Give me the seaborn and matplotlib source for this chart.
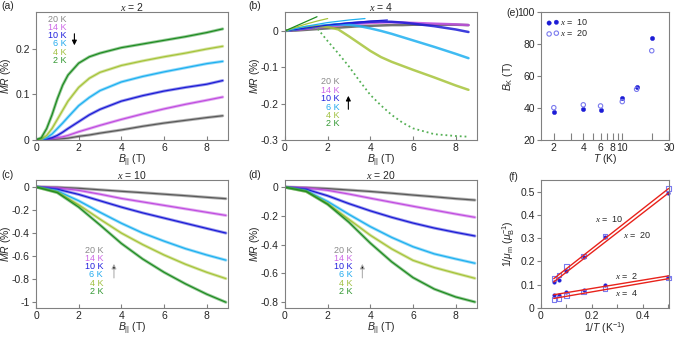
import numpy as np
import matplotlib
matplotlib.use("Agg")
import matplotlib.pyplot as plt
import seaborn as sns

sns.set_theme(style="white")
plt.rcParams['font.family'] = ['Liberation Sans', 'DejaVu Sans']
plt.rcParams['mathtext.fontset'] = 'custom'
plt.rcParams['mathtext.rm'] = 'Liberation Sans'
plt.rcParams['mathtext.it'] = 'Liberation Sans:italic'
plt.rcParams['mathtext.cal'] = 'Liberation Serif:italic'
plt.rcParams['axes.unicode_minus'] = False

temps = ["20 K", "14 K", "10 K", "6 K", "4 K", "2 K"]
line_colors = ["#5a5a5a", "#c04ee0", "#1c1cd6", "#1eb0f0", "#a6c43a", "#1f8c22"]
text_colors = ["#8a8a8a", "#cc66e6", "#2222dd", "#22aaee", "#a0c040", "#339933"]

# (a) x = 2
B_a = [0, 0.25, 0.5, 0.75, 1, 1.25, 1.5, 2, 2.5, 3, 4, 5, 6, 7, 8, 8.75]
mr_a_20K = [0, 0, 0, 0.001, 0.002, 0.003, 0.004, 0.008, 0.011, 0.015, 0.022, 0.03, 0.037, 0.043, 0.049, 0.053]
mr_a_14K = [0, 0, 0.001, 0.003, 0.005, 0.007, 0.01, 0.018, 0.025, 0.032, 0.045, 0.057, 0.068, 0.078, 0.087, 0.094]
mr_a_10K = [0, 0, 0.002, 0.005, 0.01, 0.017, 0.025, 0.04, 0.055, 0.067, 0.085, 0.097, 0.107, 0.115, 0.122, 0.13]
mr_a_6K = [0, 0.001, 0.005, 0.013, 0.025, 0.037, 0.05, 0.075, 0.093, 0.108, 0.127, 0.139, 0.149, 0.158, 0.167, 0.172]
mr_a_4K = [0, 0.002, 0.01, 0.025, 0.045, 0.065, 0.085, 0.115, 0.135, 0.148, 0.163, 0.173, 0.182, 0.19, 0.199, 0.205]
mr_a_2K = [0, 0.005, 0.025, 0.055, 0.09, 0.12, 0.142, 0.168, 0.182, 0.19, 0.202, 0.21, 0.218, 0.226, 0.235, 0.243]

# (b) x = 4, data
B_b = [0, 0.5, 1, 1.5, 2, 2.5, 3, 3.5, 4, 4.5, 5, 5.5, 6, 7, 8, 8.6]
mr_b_20K = [0, 0.001, 0.003, 0.005, 0.007, 0.009, 0.011, 0.013, 0.014, 0.015, 0.016, 0.016, 0.017, 0.017, 0.017, 0.016]
mr_b_14K = [0, 0.003, 0.006, 0.009, 0.012, 0.015, 0.018, 0.02, 0.022, 0.023, 0.024, 0.023, 0.022, 0.02, 0.018, 0.016]
mr_b_10K = [0, 0.004, 0.008, 0.012, 0.015, 0.018, 0.021, 0.023, 0.025, 0.026, 0.025, 0.023, 0.02, 0.013, 0.004, -0.003]
mr_b_6K = [0, 0.005, 0.009, 0.013, 0.016, 0.018, 0.017, 0.013, 0.007, 0.0, -0.008, -0.017, -0.026, -0.044, -0.063, -0.075]
mr_b_4K = [0, 0.006, 0.011, 0.013, 0.011, 0.004, -0.015, -0.035, -0.055, -0.072, -0.085, -0.096, -0.107, -0.128, -0.15, -0.162]
mr_b_2K = [0, 0.005, 0.01, 0.008, -0.028, -0.062, -0.098, -0.138, -0.176, -0.205, -0.231, -0.252, -0.268, -0.284, -0.289, -0.291]
# (b) low-field fits
fit_b_B_10K = [0, 1, 2, 3, 4, 4.8]
fit_b_10K = [0, 0.008, 0.016, 0.022, 0.027, 0.03]
fit_b_B_6K = [0, 1, 2, 3, 3.75]
fit_b_6K = [0, 0.013, 0.023, 0.03, 0.034]
fit_b_B_4K = [0, 0.5, 1, 1.5, 2]
fit_b_4K = [0, 0.01, 0.019, 0.027, 0.034]
fit_b_B_2K = [0, 0.5, 1, 1.5]
fit_b_2K = [0, 0.013, 0.026, 0.039]

# (c) x = 10
B_cd = [0, 1, 2, 3, 4, 5, 6, 7, 8, 8.9]
mr_c_20K = [0, -0.003, -0.012, -0.025, -0.038, -0.05, -0.063, -0.076, -0.09, -0.102]
mr_c_14K = [0, -0.008, -0.03, -0.063, -0.1, -0.13, -0.16, -0.19, -0.22, -0.247]
mr_c_10K = [0, -0.02, -0.065, -0.12, -0.175, -0.225, -0.27, -0.315, -0.36, -0.4]
mr_c_6K = [0, -0.035, -0.12, -0.22, -0.315, -0.4, -0.47, -0.535, -0.59, -0.635]
mr_c_4K = [0, -0.045, -0.155, -0.28, -0.4, -0.5, -0.59, -0.67, -0.74, -0.795]
mr_c_2K = [0, -0.05, -0.175, -0.33, -0.49, -0.625, -0.74, -0.84, -0.93, -1.0]

# (d) x = 20
mr_d_20K = [0, -0.003, -0.01, -0.02, -0.03, -0.042, -0.055, -0.067, -0.08, -0.09]
mr_d_14K = [0, -0.005, -0.022, -0.048, -0.077, -0.105, -0.133, -0.16, -0.187, -0.21]
mr_d_10K = [0, -0.015, -0.06, -0.115, -0.165, -0.21, -0.25, -0.285, -0.315, -0.34]
mr_d_6K = [0, -0.025, -0.1, -0.19, -0.275, -0.35, -0.415, -0.465, -0.5, -0.53]
mr_d_4K = [0, -0.03, -0.115, -0.225, -0.335, -0.43, -0.51, -0.56, -0.6, -0.635]
mr_d_2K = [0, -0.03, -0.12, -0.245, -0.39, -0.52, -0.63, -0.71, -0.765, -0.8]

# (e) B_K vs T
T_e = [2, 4, 6, 10, 14, 20]
Bk_x10 = [37.7, 39.4, 39.0, 46.3, 53.0, 83.8]
Bk_x20 = [40.2, 42.0, 41.3, 44.0, 51.7, 75.8]

# (f) 1/mu_m vs 1/T
invT = [0.05, 0.0714, 0.1, 0.1667, 0.25, 0.5]
inv_mu_x10 = [0.11, 0.121, 0.157, 0.22, 0.303, 0.492]
inv_mu_x20 = [0.126, 0.143, 0.179, 0.224, 0.31, 0.513]
inv_mu_x2 = [0.054, 0.054, 0.069, 0.079, 0.1, 0.133]
inv_mu_x4 = [0.036, 0.04, 0.054, 0.069, 0.083, 0.129]
fit_invT = [0.05, 0.5]
fit_x10 = [0.126, 0.513]
fit_x20 = [0.112, 0.494]
fit_x2 = [0.057, 0.138]
fit_x4 = [0.041, 0.126]

FS = 7.5
GRAY = "#808080"
B_LABEL = r'$B_{||}$ (T)'

fig = plt.figure(figsize=(6.76, 3.38), dpi=100)


def add_ax(l, r, t, b):
    return fig.add_axes([l / 676, 1 - b / 338, (r - l) / 676, (b - t) / 338])


def style(ax, ylab_x):
    for sp in ax.spines.values():
        sp.set_color(GRAY)
        sp.set_linewidth(0.8)
    ax.tick_params(axis='x', direction='in', length=3, width=0.8, color=GRAY,
                   labelsize=FS, pad=2, bottom=True)
    ax.tick_params(axis='y', direction='out', length=3, width=0.8, color=GRAY,
                   labelsize=FS, pad=1.5, left=True)
    ax.grid(False)
    ax.yaxis.set_label_coords(ylab_x, 0.5)
    ax.xaxis.set_label_coords(0.5, -0.095)


def draw_arrow(ax, x, y0, y1, shaft):
    ax.annotate('', xy=(x, y1), xytext=(x, y0), xycoords='axes fraction',
                arrowprops=dict(arrowstyle='-|>', color=shaft, lw=0.8,
                                mutation_scale=7, shrinkA=0, shrinkB=0,
                                fc='black', ec=shaft))


def fmt(v):
    return '{:g}'.format(round(v, 3))


def mr_panel(ax, B, curves, title, ylim, yticks, leg_x, leg_y0, arrow_x, arrow_y, shaft):
    for vals, c in zip(curves, line_colors):
        sns.lineplot(x=B, y=vals, color=c, lw=2.2, alpha=0.45, ax=ax)
        sns.lineplot(x=B, y=vals, color=c, lw=0.9, ax=ax)
    ax.set_xlim(0, 9)
    ax.set_ylim(*ylim)
    ax.set_xticks([0, 2, 4, 6, 8])
    ax.set_yticks(yticks)
    ax.set_yticklabels([fmt(v) for v in yticks])
    ax.set_title(title, fontsize=FS, pad=0.5)
    ax.set_xlabel(B_LABEL, fontsize=FS)
    ax.set_ylabel(r'$MR$ (%)', fontsize=FS)
    for i, (t, c) in enumerate(zip(temps, text_colors)):
        ax.text(leg_x, leg_y0 - i * 0.065, t, color=c, fontsize=6.5,
                ha='right', va='center', transform=ax.transAxes)
    draw_arrow(ax, arrow_x, arrow_y[0], arrow_y[1], shaft)
    style(ax, -0.12)


ax_a = add_ax(36, 228, 12, 140)
mr_panel(ax_a, B_a, [mr_a_20K, mr_a_14K, mr_a_10K, mr_a_6K, mr_a_4K, mr_a_2K],
         r'$\mathcal{x}$ = 2', (0, 0.28), [0, 0.1, 0.2], 0.157, 0.945,
         0.2, (0.83, 0.74), 'black')

ax_b = add_ax(285, 477, 12, 140)
curves_b = [mr_b_20K, mr_b_14K, mr_b_10K, mr_b_6K, mr_b_4K]
for vals, c in zip(curves_b, line_colors[:5]):
    sns.lineplot(x=B_b, y=vals, color=c, lw=1.8, alpha=0.85, ax=ax_b)
sns.lineplot(x=B_b, y=mr_b_2K, color="#55b055", lw=1.3, ls=':', ax=ax_b)
for fb, fv, c in [(fit_b_B_10K, fit_b_10K, line_colors[2]), (fit_b_B_6K, fit_b_6K, line_colors[3]),
                  (fit_b_B_4K, fit_b_4K, line_colors[4]), (fit_b_B_2K, fit_b_2K, line_colors[5])]:
    sns.lineplot(x=fb, y=fv, color=c, lw=0.9, ax=ax_b)
ax_b.set_xlim(0, 9)
ax_b.set_ylim(-0.3, 0.052)
ax_b.set_xticks([0, 2, 4, 6, 8])
ax_b.set_yticks([0, -0.1, -0.2, -0.3])
ax_b.set_yticklabels(['0', '-0.1', '-0.2', '-0.3'])
ax_b.set_title(r'$\mathcal{x}$ = 4', fontsize=FS, pad=0.5)
ax_b.set_xlabel(B_LABEL, fontsize=FS)
ax_b.set_ylabel(r'$MR$ (%)', fontsize=FS)
for i, (t, c) in enumerate(zip(temps, text_colors)):
    ax_b.text(0.283, 0.455 - i * 0.066, t, color=c, fontsize=6.5,
              ha='right', va='center', transform=ax_b.transAxes)
draw_arrow(ax_b, 0.33, 0.24, 0.345, 'black')
style(ax_b, -0.12)

ax_c = add_ax(36, 228, 180, 308)
mr_panel(ax_c, B_cd, [mr_c_20K, mr_c_14K, mr_c_10K, mr_c_6K, mr_c_4K, mr_c_2K],
         r'$\mathcal{x}$ = 10', (-1.05, 0.06), [0, -0.2, -0.4, -0.6, -0.8, -1],
         0.349, 0.453, 0.406, (0.235, 0.345), '#b0b0b0')

ax_d = add_ax(285, 477, 180, 308)
mr_panel(ax_d, B_cd, [mr_d_20K, mr_d_14K, mr_d_10K, mr_d_6K, mr_d_4K, mr_d_2K],
         r'$\mathcal{x}$ = 20', (-0.842, 0.05), [0, -0.2, -0.4, -0.6, -0.8],
         0.353, 0.453, 0.403, (0.235, 0.345), '#b0b0b0')

# (e)
ax_e = add_ax(541, 669, 12, 140)
sns.scatterplot(x=T_e, y=Bk_x10, color='#1c1cd6', s=10, edgecolor='#1c1cd6',
                marker='o', label=r'$\mathcal{x}$ =  10', ax=ax_e)
sns.scatterplot(x=T_e, y=Bk_x20, facecolor='none', edgecolor='#7a7aee', s=10,
                linewidth=0.8, marker='o', label=r'$\mathcal{x}$ =  20', ax=ax_e)
ax_e.set_xscale('log')
ax_e.set_xlim(1.48, 30)
ax_e.set_ylim(20, 100)
ax_e.set_xticks([2, 3, 4, 5, 6, 7, 8, 9, 10, 20, 30])
ax_e.set_xticklabels(['2', '', '4', '', '6', '', '8', '', '10', '', '30'])
ax_e.minorticks_off()
ax_e.set_yticks([20, 40, 60, 80, 100])
ax_e.set_xlabel(r'$T$ (K)', fontsize=FS)
ax_e.set_ylabel(r'$B_{\mathrm{K}}$ (T)', fontsize=FS)
ax_e.legend(loc='upper left', frameon=False, scatterpoints=2, fontsize=6.5,
            handletextpad=0.1, borderaxespad=0.4, labelspacing=0.1,
            borderpad=0.2, handlelength=1.4)
style(ax_e, -0.2)
ax_e.tick_params(axis='x', length=5)

# (f)
ax_f = add_ax(541, 669, 180, 308)
for fv in [fit_x10, fit_x20, fit_x2, fit_x4]:
    sns.lineplot(x=fit_invT, y=fv, color='#e8221b', lw=1.0, ax=ax_f)
for vals in [inv_mu_x10, inv_mu_x2]:
    sns.scatterplot(x=invT, y=vals, color='#1c1cd6', edgecolor='#1c1cd6', s=7,
                    marker='o', clip_on=False, ax=ax_f)
for vals in [inv_mu_x20, inv_mu_x4]:
    sns.scatterplot(x=invT, y=vals, facecolor='none', edgecolor='#7a7aee', s=10,
                    linewidth=0.8, marker='s', clip_on=False, ax=ax_f)
ax_f.text(0.211, 0.383, r'$\mathcal{x}$ =  10', fontsize=6.5, va='center')
ax_f.text(0.32, 0.315, r'$\mathcal{x}$ =  20', fontsize=6.5, va='center')
ax_f.text(0.29, 0.138, r'$\mathcal{x}$ =  2', fontsize=6.5, va='center')
ax_f.text(0.29, 0.064, r'$\mathcal{x}$ =  4', fontsize=6.5, va='center')
ax_f.set_xlim(0, 0.502)
ax_f.set_ylim(0, 0.55)
ax_f.set_xticks([0, 0.1, 0.2, 0.3, 0.4, 0.5])
ax_f.set_xticklabels(['0', '', '0.2', '', '0.4', ''])
ax_f.set_yticks([0, 0.1, 0.2, 0.3, 0.4, 0.5])
ax_f.set_yticklabels(['0', '0.1', '0.2', '0.3', '0.4', '0.5'])
ax_f.set_xlabel(r'1/$T$ (K$^{-1}$)', fontsize=FS)
ax_f.set_ylabel(r'1/$\mu_{\mathrm{m}}$ ($\mu_{\mathrm{B}}^{-1}$)', fontsize=FS)
style(ax_f, -0.19)

for lab, x, y in [('(a)', 1, 6), ('(b)', 248, 6), ('(c)', 1, 175),
                  ('(d)', 248, 175), ('(e)', 506, 13), ('(f)', 508, 177)]:
    fig.text(x / 676, 1 - y / 338, lab, fontsize=FS, va='center', ha='left')

fig.savefig('out.png', dpi=100)
